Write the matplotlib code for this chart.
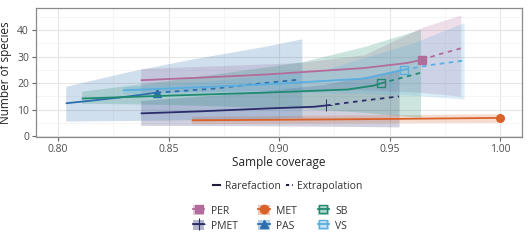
import numpy as np
import matplotlib
matplotlib.use("Agg")
import matplotlib.pyplot as plt
from matplotlib.lines import Line2D
from matplotlib.patches import Patch
from matplotlib.legend_handler import HandlerTuple

plt.rcParams['font.family'] = ['Open Sans', 'DejaVu Sans']

sites = ["PER", "PMET", "MET", "PAS", "SB", "VS"]
line_colors = {"PER": "#b26c9c", "PMET": "#2b2d6b", "MET": "#d9622b",
               "PAS": "#2c6fae", "SB": "#1f8a70", "VS": "#5aaee0"}
markers = {"PER": "s", "PMET": "+", "MET": "o", "PAS": "^", "SB": "s", "VS": "s"}

# rarefaction (solid) curves
rare_x = {
    "PER": [0.8374, 0.865, 0.893, 0.9385, 0.958, 0.9646],
    "PMET": [0.8374, 0.865, 0.893, 0.9158, 0.9213],
    "MET": [0.8605, 0.90, 0.95, 1.0],
    "PAS": [0.8035, 0.815, 0.83, 0.8447],
    "SB": [0.8107, 0.85, 0.893, 0.931, 0.943, 0.946],
    "VS": [0.8293, 0.86, 0.893, 0.9385, 0.9566],
}
rare_y = {
    "PER": [21.1, 22.1, 23.2, 25.7, 27.6, 28.8],
    "PMET": [8.6, 9.4, 10.4, 11.1, 11.6],
    "MET": [6.0, 6.2, 6.5, 6.9],
    "PAS": [12.4, 13.4, 14.8, 16.4],
    "SB": [14.2, 15.3, 16.4, 17.6, 19.1, 19.9],
    "VS": [17.3, 18.3, 19.5, 21.7, 25.1],
}
# extrapolation (dashed) curves
ext_x = {
    "PER": [0.9646, 0.973, 0.9822],
    "PMET": [0.9213, 0.94, 0.9543],
    "MET": [1.0],
    "PAS": [0.8447, 0.87, 0.893, 0.909],
    "SB": [0.946, 0.955, 0.964],
    "VS": [0.9566, 0.97, 0.9837],
}
ext_y = {
    "PER": [28.8, 31.0, 33.1],
    "PMET": [11.6, 13.6, 15.0],
    "MET": [6.9],
    "PAS": [16.4, 17.9, 20.0, 21.3],
    "SB": [19.9, 21.9, 23.9],
    "VS": [25.1, 27.0, 28.5],
}
# confidence bands
band_x = {
    "PER": [0.8374, 0.88, 0.91, 0.9385, 0.9646, 0.9822],
    "PMET": [0.8374, 0.88, 0.92, 0.9543],
    "MET": [0.8605, 0.93, 1.0],
    "PAS": [0.8035, 0.83, 0.86, 0.893, 0.9103],
    "SB": [0.8107, 0.85, 0.91, 0.9385, 0.964],
    "VS": [0.8293, 0.87, 0.92, 0.96, 0.9837],
}
band_lo = {
    "PER": [16.5, 17.0, 17.5, 17.5, 16.5, 15.1],
    "PMET": [4.1, 4.0, 3.8, 3.5],
    "MET": [4.8, 5.0, 5.2],
    "PAS": [5.7, 5.9, 6.2, 6.6, 7.0],
    "SB": [12.4, 12.0, 10.5, 9.0, 7.0],
    "VS": [16.0, 16.5, 16.5, 15.5, 14.0],
}
band_hi = {
    "PER": [25.5, 26.8, 27.8, 30.7, 41.0, 45.7],
    "PMET": [13.5, 16.0, 19.5, 25.0],
    "MET": [7.5, 8.0, 8.5],
    "PAS": [18.8, 24.0, 29.0, 33.8, 36.7],
    "SB": [17.0, 21.0, 28.0, 33.8, 40.3],
    "VS": [18.6, 21.0, 25.0, 35.0, 42.8],
}

fig = plt.figure(figsize=(5.28, 2.44), dpi=100)
ax = fig.add_axes([0.068, 0.4385, 0.921, 0.5285])

for s in sites:
    c = line_colors[s]
    ax.fill_between(band_x[s], band_lo[s], band_hi[s], color=c, alpha=0.22, lw=0)
for s in sites:
    c = line_colors[s]
    ax.plot(rare_x[s], rare_y[s], color=c, lw=1.3, solid_capstyle='butt')
    if len(ext_x[s]) > 1:
        ax.plot(ext_x[s], ext_y[s], color=c, lw=1.3, ls=(0, (2.5, 2.5)))
    mfc = 'none' if s in ("SB", "VS") else c
    ms = 8 if s == "PMET" else 5.5
    mew = 0.7 if s == "PMET" else 1.0
    ax.plot(rare_x[s][-1], rare_y[s][-1], marker=markers[s], ms=ms,
            color=c, mfc=mfc, mew=mew, ls='none')

ax.set_xlim(0.79, 1.01)
ax.set_ylim(-0.3, 48.3)
ax.set_xticks([0.80, 0.85, 0.90, 0.95, 1.00])
ax.set_xticklabels(["0.80", "0.85", "0.90", "0.95", "1.00"])
ax.set_xticks([0.825, 0.875, 0.925, 0.975], minor=True)
ax.set_yticks([0, 10, 20, 30, 40])
ax.set_yticks([5, 15, 25, 35, 45], minor=True)
ax.grid(which='major', color='#e6e6e6', lw=0.8)
ax.grid(which='minor', color='#f2f2f2', lw=0.5)
ax.set_axisbelow(True)
for sp in ax.spines.values():
    sp.set_color('#8a8a8a')
    sp.set_linewidth(0.9)
ax.tick_params(which='major', length=3, color='#666666', labelsize=7.5,
               labelcolor='#4d4d4d', pad=2)
ax.tick_params(which='minor', length=0)
ax.set_xlabel("Sample coverage", fontsize=8.5, color='#222222', labelpad=1)
ax.set_ylabel("Number of species", fontsize=8.5, color='#222222', labelpad=4)

# legend for line type
lt_handles = [Line2D([], [], color='#1e1e3c', lw=1.5),
              Line2D([], [], color='#1e1e3c', lw=1.5, ls=(0, (1.5, 1.5)))]
leg1 = fig.legend(lt_handles, ["Rarefaction", "Extrapolation"], ncol=2,
                  loc='center', bbox_to_anchor=(0.545, 0.237), frameon=False,
                  fontsize=7.5, handlelength=0.7, columnspacing=0.5,
                  handletextpad=0.4)
for t in leg1.get_texts():
    t.set_color('#333333')

# legend for sites
handles = []
for s in sites:
    c = line_colors[s]
    mfc = 'none' if s in ("SB", "VS") else c
    ms = 9 if s == "PMET" else 6
    mew = 0.8 if s == "PMET" else 1.0
    handles.append((Patch(facecolor=c, alpha=0.35, edgecolor='none'),
                    Line2D([], [], color=c, lw=1.3, marker=markers[s], ms=ms,
                           mfc=mfc, mew=mew)))
leg2 = fig.legend(handles, sites, ncol=3, loc='center',
                  bbox_to_anchor=(0.512, 0.105), frameon=False, fontsize=7.5,
                  handler_map={tuple: HandlerTuple(ndivide=1, pad=0)},
                  handlelength=1.1, handleheight=1.1, columnspacing=2.0,
                  handletextpad=0.6, labelspacing=0.35)
for t in leg2.get_texts():
    t.set_color('#333333')

fig.savefig("out.png", dpi=100)
